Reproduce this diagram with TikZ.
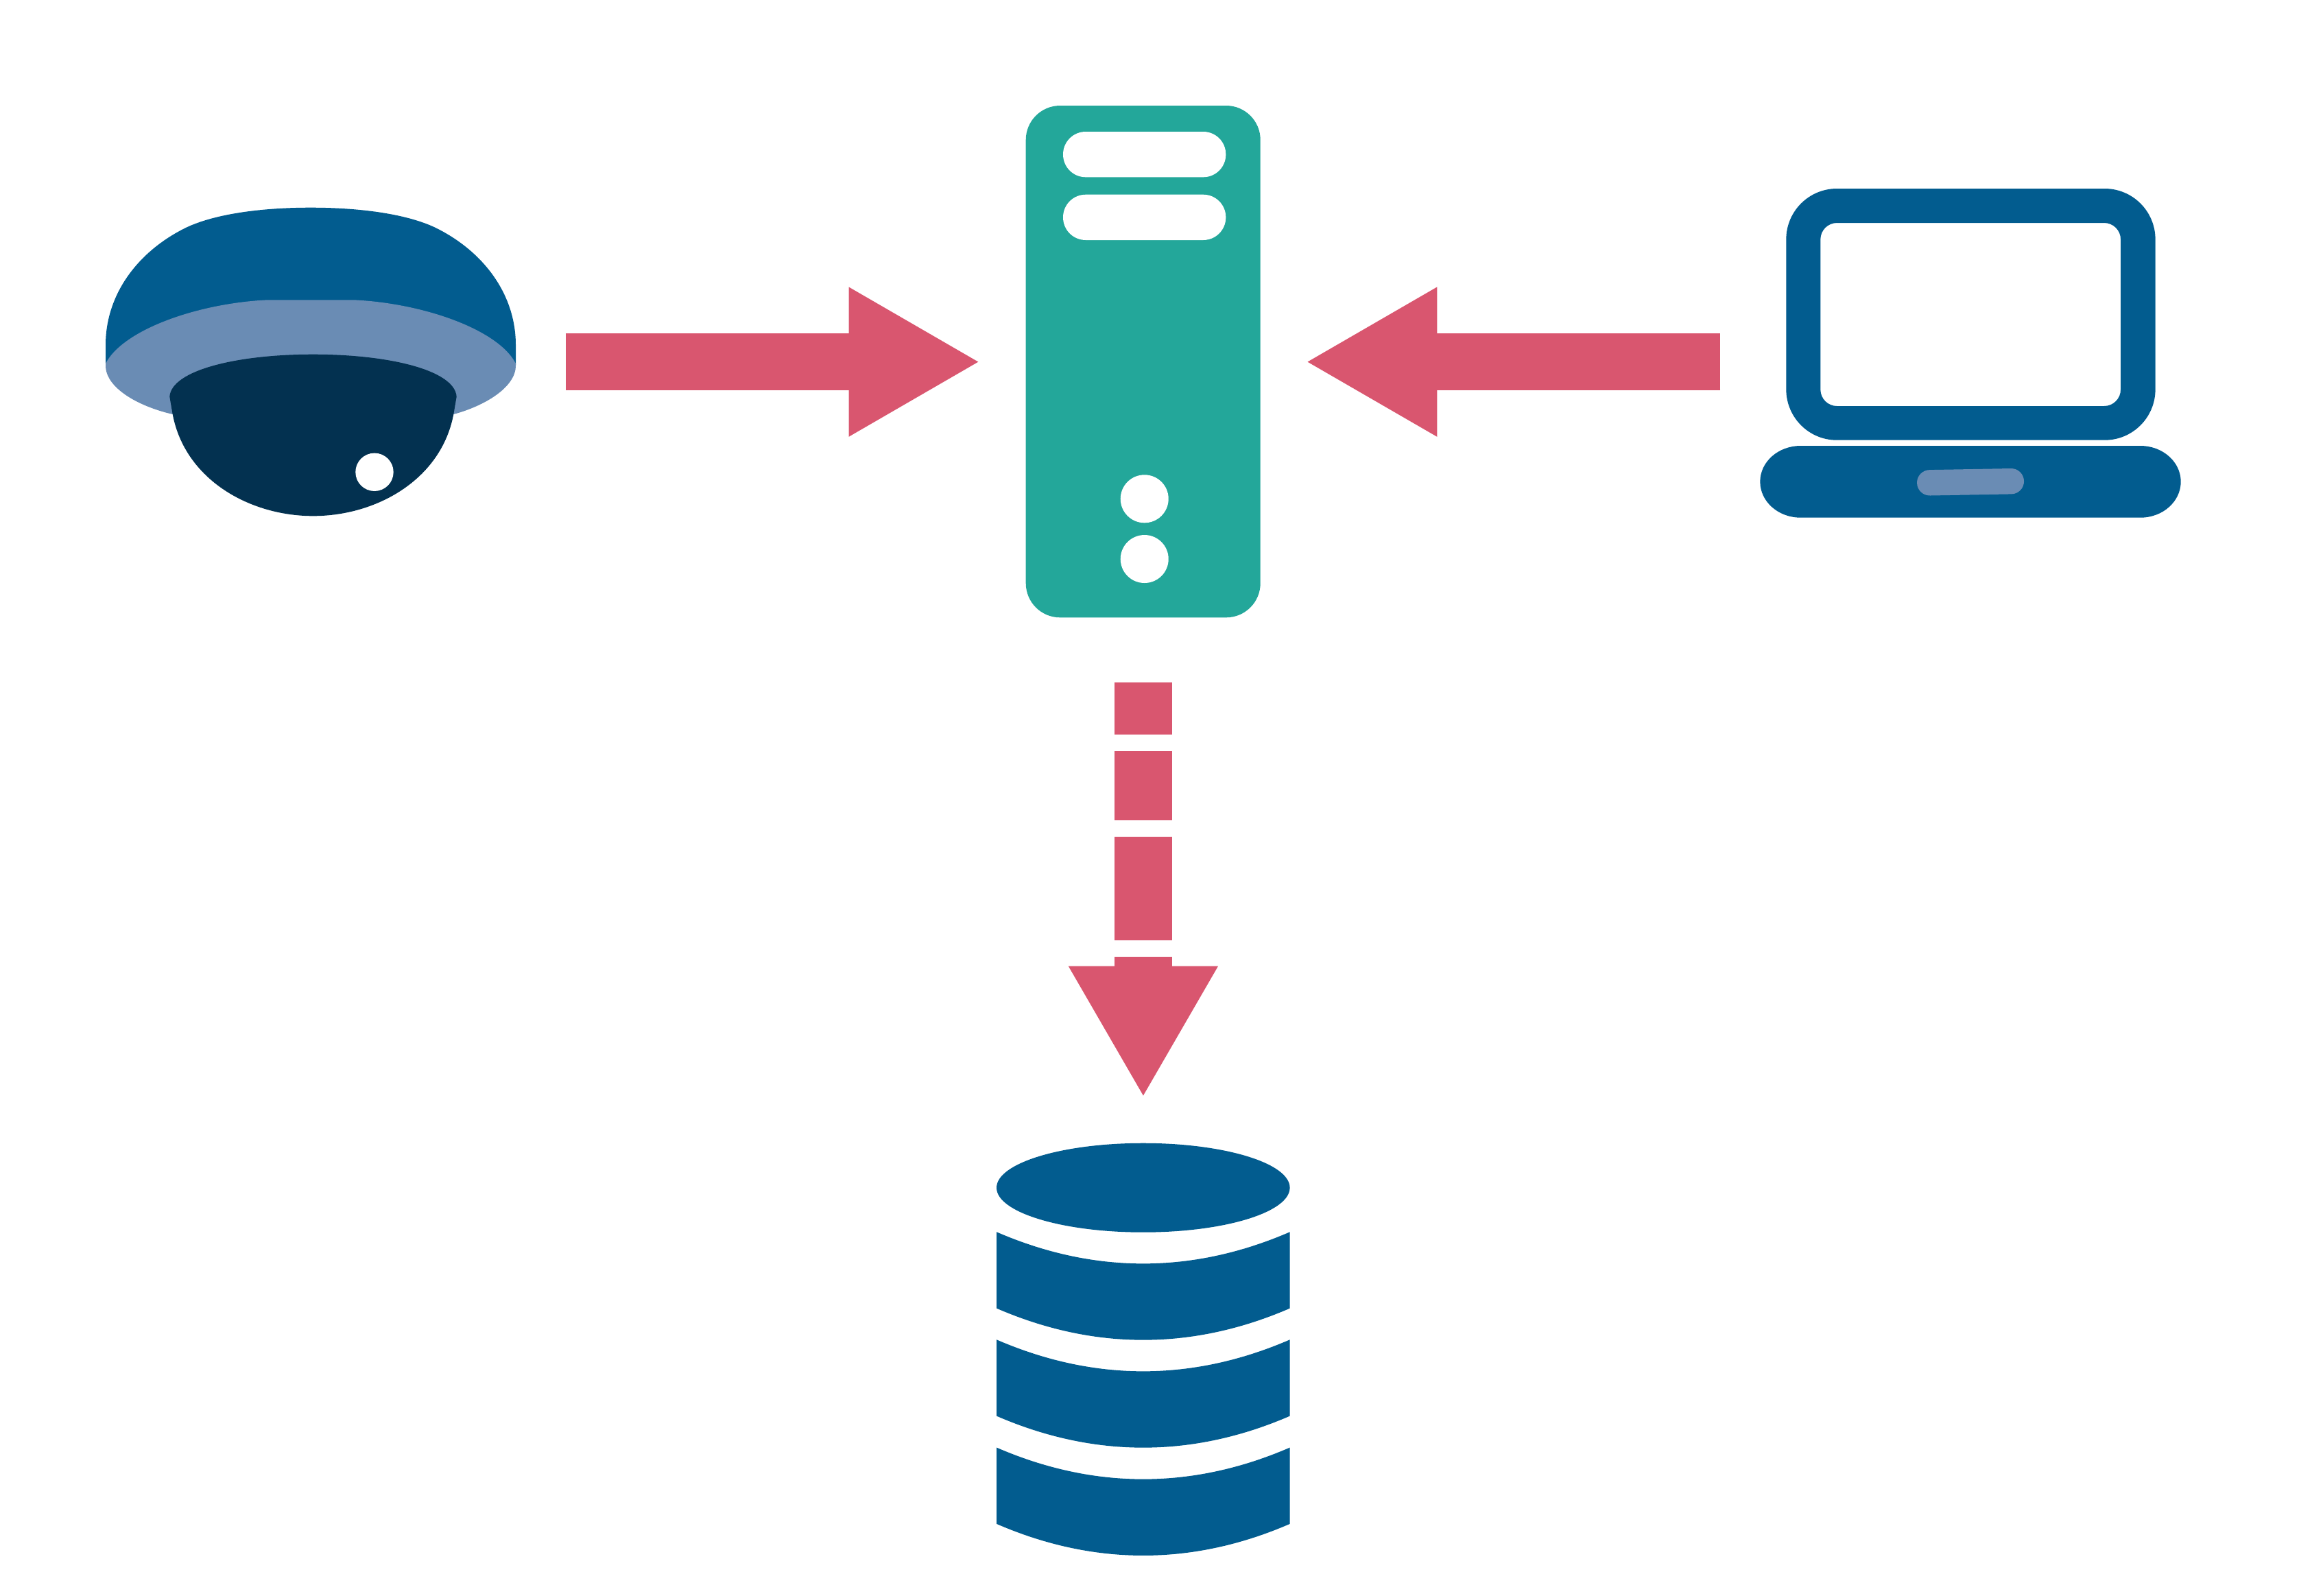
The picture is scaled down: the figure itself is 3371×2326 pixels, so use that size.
\documentclass[tikz,border=0pt]{standalone}
\usetikzlibrary{arrows.meta}
\definecolor{pinkarrow}{HTML}{D9566F}
\definecolor{tealserver}{HTML}{23A79A}
\definecolor{blueicon}{HTML}{025C8F}
\definecolor{lightblue}{HTML}{6A8CB4}
\definecolor{darknavy}{HTML}{033150}
\tikzset{
  flow/.style={draw=pinkarrow, line width=41.65pt, line cap=butt,
    -{Triangle[length=94.4pt,width=109.2pt,line width=0pt,fill=pinkarrow]}}
}
\begin{document}
\begin{tikzpicture}[x=0.5pt,y=-0.5pt]
\useasboundingbox (0,0) rectangle (3371,2326);
\fill[white] (0,0) rectangle (3371,2326);

% named connector ends
\coordinate (camOut) at (824.8,527.6);
\coordinate (srvInL) at (1426.3,527.6);
\coordinate (lapOut) at (2508.4,527.6);
\coordinate (srvInR) at (1906.5,527.6);
\coordinate (srvOut) at (1666.9,995);
\coordinate (dbIn) at (1666.9,1597.3);

% connectors
\draw[flow] (camOut) -- (srvInL);
\draw[flow] (lapOut) -- (srvInR);
\draw[flow, dash pattern=on 37.85pt off 12.15pt on 50.35pt off 12.3pt on 75.2pt off 12.15pt on 250pt off 0pt] (srvOut) -- (dbIn);

% camera
\fill[blueicon] (154,532) -- (154,503) .. controls (154,430) and (200,367) .. (271,332)
  .. controls (315,311) and (385,302.7) .. (453,302.7)
  .. controls (521,302.7) and (591,311) .. (635,332)
  .. controls (706,367) and (752,430) .. (752,503) -- (752,532) -- cycle;
\fill[lightblue] (154,530) .. controls (180,480) and (290,442) .. (390,437.3) -- (516,437.3)
  .. controls (616,442) and (726,480) .. (752,530) -- (752,533)
  .. controls (752,565) and (706,592) .. (661.3,604) -- (251.7,604)
  .. controls (200,592) and (154,565) .. (154,533) -- cycle;
\fill[darknavy] (247.3,578.3) .. controls (250,540) and (345,516.7) .. (456.5,516.7)
  .. controls (568,516.7) and (663,540) .. (665.7,578.3) -- (661.3,604)
  .. controls (643,700) and (548,752.3) .. (456.5,752.3)
  .. controls (365,752.3) and (270,700) .. (251.7,604) -- cycle;
\fill[white] (546,688.3) circle[radius=27.7];

% server
\fill[tealserver, rounded corners=25pt] (1495.7,154) rectangle (1837.7,900.3);
\fill[white, rounded corners=16.5pt] (1550,192) rectangle (1787.3,258.3);
\fill[white, rounded corners=16.5pt] (1550,283.7) rectangle (1787.3,350);
\fill[white] (1668.7,727.3) circle[radius=35];
\fill[white] (1668.7,815) circle[radius=35];

% laptop
\fill[blueicon, even odd rule]
  [rounded corners=37pt] (2604.3,275) rectangle (3142.6,641.7)
  [rounded corners=12pt] (2654.3,325) rectangle (3092,592);
\fill[blueicon, sharp corners] (2625.3,650) -- (3120.7,650)
  .. controls (3153.3,650) and (3179.7,673.4) .. (3179.7,702.3)
  .. controls (3179.7,731.2) and (3153.3,754.7) .. (3120.7,754.7)
  -- (2625.3,754.7)
  .. controls (2592.7,754.7) and (2566.3,731.2) .. (2566.3,702.3)
  .. controls (2566.3,673.4) and (2592.7,650) .. (2625.3,650) -- cycle;
\draw[lightblue, line width=18.7pt, line cap=round] (2813.7,703.8) -- (2932.3,701.7);

% database
\fill[blueicon] (1666.8,1731.7) ellipse[x radius=213.8, y radius=65];
\foreach \t in {1796.2,1953.2,2110.5}{
  \fill[blueicon] (1453,\t) .. controls (1595,\t+61.5) and (1738.7,\t+61.5) .. (1880.7,\t)
    -- (1880.7,\t+111.3) .. controls (1738.7,\t+172.8) and (1595,\t+172.8) .. (1453,\t+111.3) -- cycle;
}
\end{tikzpicture}
\end{document}
